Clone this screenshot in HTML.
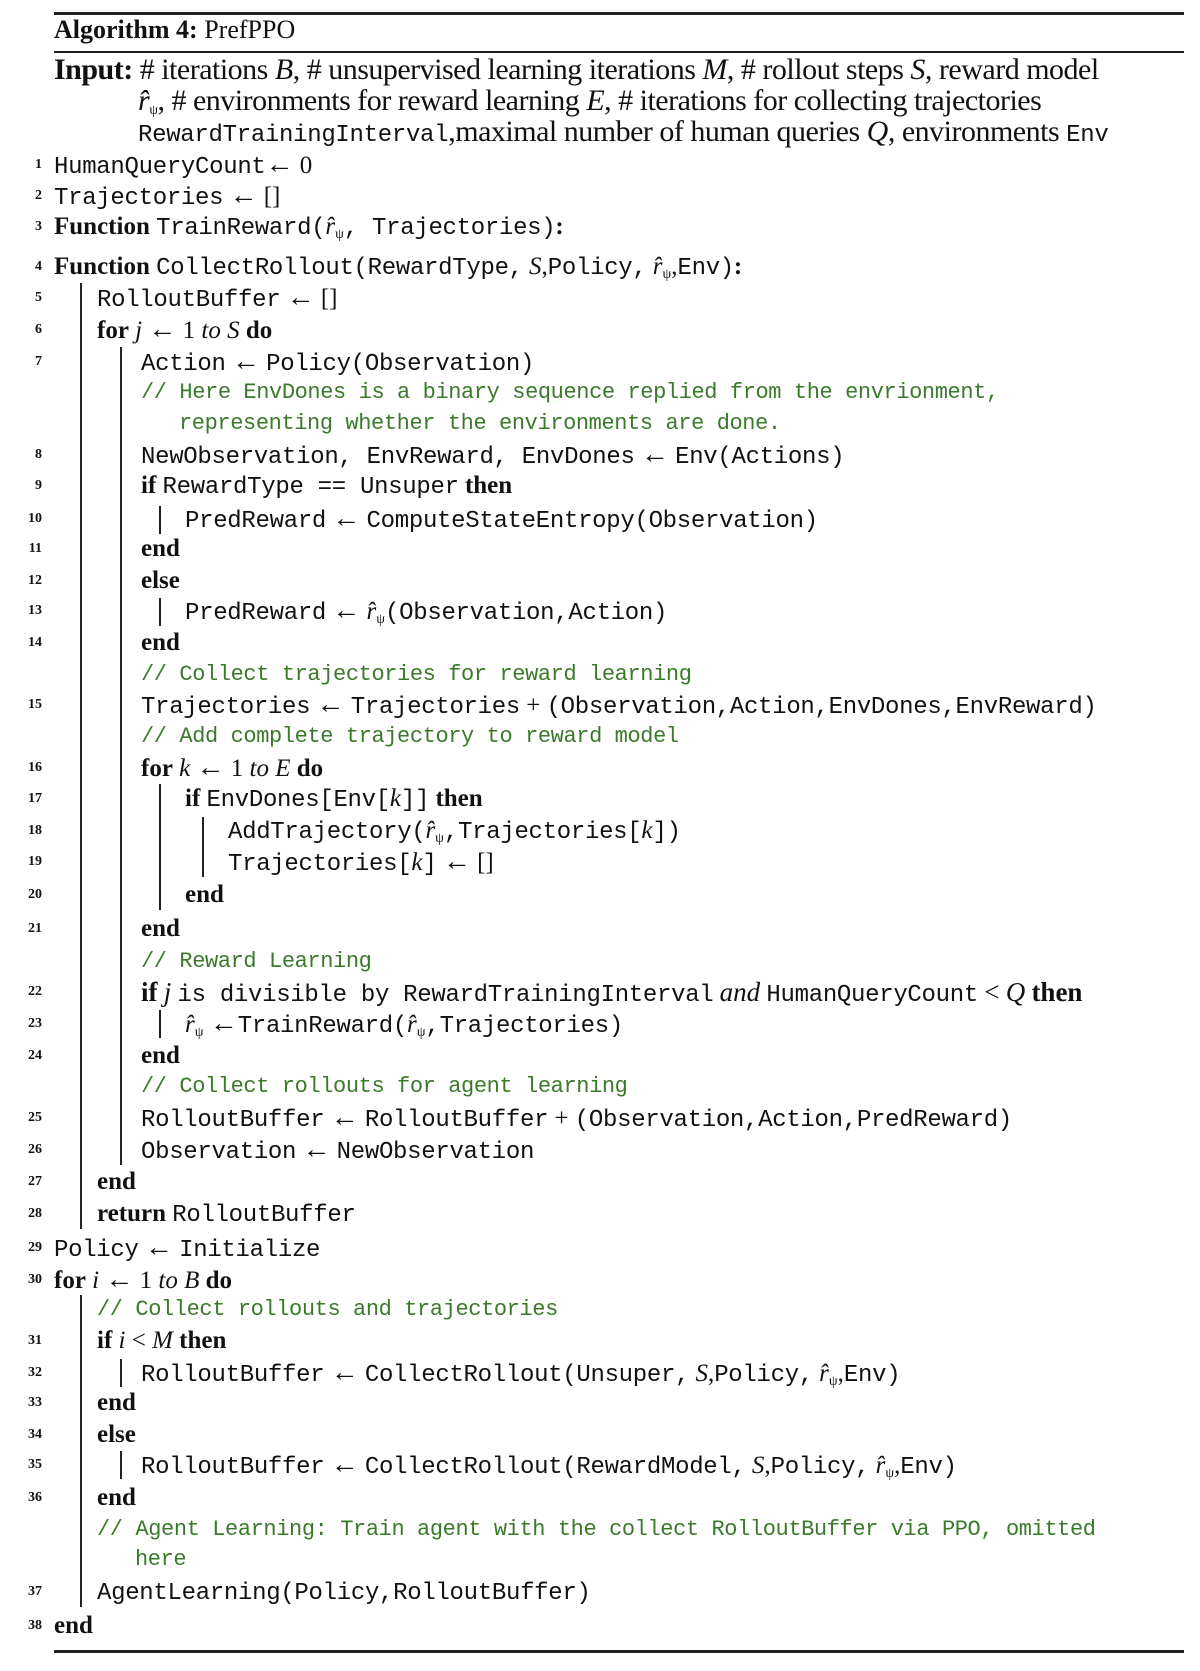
<!DOCTYPE html>
<html><head><meta charset="utf-8"><style>
html,body{margin:0;padding:0;background:#fff;}
body{width:1200px;height:1671px;position:relative;overflow:hidden;font-family:"Liberation Serif",serif;color:#111;}
.l{position:absolute;height:30px;line-height:30px;white-space:nowrap;font-size:25px;}
.t{font-family:"Liberation Mono",monospace;font-size:24px;letter-spacing:-0.3px;}
.c{font-family:"Liberation Mono",monospace;font-size:22px;color:#3a7a2a;letter-spacing:-0.4px;}
.in{font-size:30px;letter-spacing:-0.5px;}
.in .t{font-size:24px;}
.n{position:absolute;left:20px;width:22px;text-align:right;font-size:14px;font-weight:bold;height:30px;line-height:30px;}
.bar{position:absolute;width:1.5px;background:#222;}
.rule{position:absolute;left:54px;width:1130px;background:#222;}
b{font-weight:bold;}
sub{font-size:14px;vertical-align:-4px;line-height:0;}
.a{font-size:28px;}
.w{font-size:27px;}
</style></head><body>
<div class="rule" style="top:12px;height:2.5px"></div>
<div class="rule" style="top:51px;height:2px"></div>
<div class="rule" style="top:1650px;height:2.5px"></div>

<div class="l" style="top:15px;left:54px;font-size:26px"><b>Algorithm 4:</b> PrefPPO</div>
<div class="l in" style="top:55px;left:54px"><b>Input:</b> # iterations <i>B</i>, # unsupervised learning iterations <i>M</i>, # rollout steps <i>S</i>, reward model</div>
<div class="l in" style="top:86px;left:138px"><i>r̂</i><sub>ψ</sub>, # environments for reward learning <i>E</i>, # iterations for collecting trajectories</div>
<div class="l in" style="top:117px;left:138px"><span class="t">RewardTrainingInterval</span>,maximal number of human queries <i>Q</i>, environments <span class="t">Env</span></div>

<div class="bar" style="left:80px;top:283px;height:946px"></div>
<div class="bar" style="left:120px;top:347px;height:818px"></div>
<div class="bar" style="left:159px;top:506px;height:28px"></div>
<div class="bar" style="left:159px;top:598px;height:28px"></div>
<div class="bar" style="left:159px;top:784px;height:126px"></div>
<div class="bar" style="left:202px;top:817px;height:60px"></div>
<div class="bar" style="left:159px;top:1010px;height:28px"></div>
<div class="bar" style="left:80px;top:1295px;height:312px"></div>
<div class="bar" style="left:120px;top:1359px;height:28px"></div>
<div class="bar" style="left:120px;top:1451px;height:28px"></div>

<div class="n" style="top:150px">1</div><div class="l" style="top:150px;left:54px"><span class="t">HumanQueryCount</span><span class="a">←</span> 0</div>
<div class="n" style="top:181px">2</div><div class="l" style="top:181px;left:54px"><span class="t">Trajectories</span> <span class="a">←</span> []</div>
<div class="n" style="top:212px">3</div><div class="l" style="top:212px;left:54px"><b>Function</b> <span class="t">TrainReward(</span><i>r̂</i><sub>ψ</sub><span class="t">, Trajectories)</span><b>:</b></div>
<div class="n" style="top:252px">4</div><div class="l" style="top:252px;left:54px"><b>Function</b> <span class="t">CollectRollout(RewardType,</span> <i>S</i>,<span class="t">Policy,</span> <i>r̂</i><sub>ψ</sub>,<span class="t">Env)</span><b>:</b></div>
<div class="n" style="top:283px">5</div><div class="l" style="top:283px;left:97px"><span class="t">RolloutBuffer</span> <span class="a">←</span> []</div>
<div class="n" style="top:315px">6</div><div class="l" style="top:315px;left:97px"><b>for</b> <i>j</i> <span class="a">←</span> 1 <i>to S</i> <b>do</b></div>
<div class="n" style="top:347px">7</div><div class="l" style="top:347px;left:141px"><span class="t">Action</span> <span class="a">←</span> <span class="t">Policy(Observation)</span></div>
<div class="l c" style="top:378px;left:141px">// Here EnvDones is a binary sequence replied from the envrionment,</div>
<div class="l c" style="top:409px;left:179px">representing whether the environments are done.</div>
<div class="n" style="top:440px">8</div><div class="l" style="top:440px;left:141px"><span class="t">NewObservation, EnvReward, EnvDones</span> <span class="a">←</span> <span class="t">Env(Actions)</span></div>
<div class="n" style="top:471px">9</div><div class="l" style="top:471px;left:141px"><b>if</b> <span class="t">RewardType == Unsuper</span> <b>then</b></div>
<div class="n" style="top:504px">10</div><div class="l" style="top:504px;left:185px"><span class="t">PredReward</span> <span class="a">←</span> <span class="t">ComputeStateEntropy(Observation)</span></div>
<div class="n" style="top:534px">11</div><div class="l" style="top:534px;left:141px"><b>end</b></div>
<div class="n" style="top:566px">12</div><div class="l" style="top:566px;left:141px"><b>else</b></div>
<div class="n" style="top:596px">13</div><div class="l" style="top:596px;left:185px"><span class="t">PredReward</span> <span class="a">←</span> <i>r̂</i><sub>ψ</sub><span class="t">(Observation,Action)</span></div>
<div class="n" style="top:628px">14</div><div class="l" style="top:628px;left:141px"><b>end</b></div>
<div class="l c" style="top:660px;left:141px">// Collect trajectories for reward learning</div>
<div class="n" style="top:690px">15</div><div class="l" style="top:690px;left:141px"><span class="t">Trajectories</span> <span class="a">←</span> <span class="t">Trajectories</span> + <span class="t">(Observation,Action,EnvDones,EnvReward)</span></div>
<div class="l c" style="top:722px;left:141px">// Add complete trajectory to reward model</div>
<div class="n" style="top:753px">16</div><div class="l" style="top:753px;left:141px"><b>for</b> <i>k</i> <span class="a">←</span> 1 <i>to E</i> <b>do</b></div>
<div class="n" style="top:784px">17</div><div class="l" style="top:784px;left:185px"><b>if</b> <span class="t">EnvDones[Env[</span><i>k</i><span class="t">]]</span> <b>then</b></div>
<div class="n" style="top:816px">18</div><div class="l" style="top:816px;left:228px"><span class="t">AddTrajectory(</span><i>r̂</i><sub>ψ</sub><span class="t">,Trajectories[</span><i>k</i><span class="t">])</span></div>
<div class="n" style="top:847px">19</div><div class="l" style="top:847px;left:228px"><span class="t">Trajectories[</span><i>k</i><span class="t">]</span> <span class="a">←</span> []</div>
<div class="n" style="top:880px">20</div><div class="l" style="top:880px;left:185px"><b>end</b></div>
<div class="n" style="top:914px">21</div><div class="l" style="top:914px;left:141px"><b>end</b></div>
<div class="l c" style="top:947px;left:141px">// Reward Learning</div>
<div class="n" style="top:977px">22</div><div class="l" style="top:977px;left:141px"><b class="w">if</b> <i class="w">j</i> <span class="t">is divisible by RewardTrainingInterval</span> <i class="w">and</i> <span class="t">HumanQueryCount</span> <span class="w">&lt;</span> <i class="w">Q</i> <b class="w">then</b></div>
<div class="n" style="top:1009px">23</div><div class="l" style="top:1009px;left:185px"><i>r̂</i><sub>ψ</sub> <span class="a">←</span><span class="t">TrainReward(</span><i>r̂</i><sub>ψ</sub><span class="t">,Trajectories)</span></div>
<div class="n" style="top:1041px">24</div><div class="l" style="top:1041px;left:141px"><b>end</b></div>
<div class="l c" style="top:1072px;left:141px">// Collect rollouts for agent learning</div>
<div class="n" style="top:1103px">25</div><div class="l" style="top:1103px;left:141px"><span class="t">RolloutBuffer</span> <span class="a">←</span> <span class="t">RolloutBuffer</span> + <span class="t">(Observation,Action,PredReward)</span></div>
<div class="n" style="top:1135px">26</div><div class="l" style="top:1135px;left:141px"><span class="t">Observation</span> <span class="a">←</span> <span class="t">NewObservation</span></div>
<div class="n" style="top:1167px">27</div><div class="l" style="top:1167px;left:97px"><b>end</b></div>
<div class="n" style="top:1199px">28</div><div class="l" style="top:1199px;left:97px"><b>return</b> <span class="t">RolloutBuffer</span></div>
<div class="n" style="top:1233px">29</div><div class="l" style="top:1233px;left:54px"><span class="t">Policy</span> <span class="a">←</span> <span class="t">Initialize</span></div>
<div class="n" style="top:1265px">30</div><div class="l" style="top:1265px;left:54px"><b>for</b> <i>i</i> <span class="a">←</span> 1 <i>to B</i> <b>do</b></div>
<div class="l c" style="top:1295px;left:97px">// Collect rollouts and trajectories</div>
<div class="n" style="top:1326px">31</div><div class="l" style="top:1326px;left:97px"><b>if</b> <i>i</i> &lt; <i>M</i> <b>then</b></div>
<div class="n" style="top:1358px">32</div><div class="l" style="top:1358px;left:141px"><span class="t">RolloutBuffer</span> <span class="a">←</span> <span class="t">CollectRollout(Unsuper,</span> <i>S</i>,<span class="t">Policy,</span> <i>r̂</i><sub>ψ</sub>,<span class="t">Env)</span></div>
<div class="n" style="top:1388px">33</div><div class="l" style="top:1388px;left:97px"><b>end</b></div>
<div class="n" style="top:1420px">34</div><div class="l" style="top:1420px;left:97px"><b>else</b></div>
<div class="n" style="top:1450px">35</div><div class="l" style="top:1450px;left:141px"><span class="t">RolloutBuffer</span> <span class="a">←</span> <span class="t">CollectRollout(RewardModel,</span> <i>S</i>,<span class="t">Policy,</span> <i>r̂</i><sub>ψ</sub>,<span class="t">Env)</span></div>
<div class="n" style="top:1483px">36</div><div class="l" style="top:1483px;left:97px"><b>end</b></div>
<div class="l c" style="top:1515px;left:97px">// Agent Learning: Train agent with the collect RolloutBuffer via PPO, omitted</div>
<div class="l c" style="top:1545px;left:135px">here</div>
<div class="n" style="top:1577px">37</div><div class="l" style="top:1577px;left:97px"><span class="t">AgentLearning(Policy,RolloutBuffer)</span></div>
<div class="n" style="top:1611px">38</div><div class="l" style="top:1611px;left:54px"><b>end</b></div>
</body></html>
